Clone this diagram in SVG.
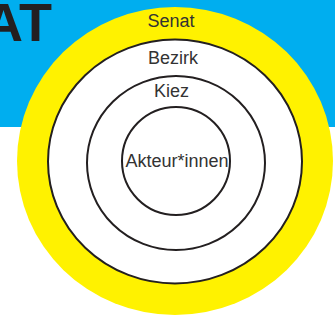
<svg xmlns="http://www.w3.org/2000/svg" width="335" height="320" viewBox="0 0 335 320">
<style>
.ring{fill:#ffffff;stroke:#231f20;stroke-width:2}
.lbl{font-family:"Liberation Sans",Arial,sans-serif;font-size:18px;fill:#333333;text-anchor:middle}
</style>
<rect x="0" y="0" width="335" height="127" fill="#00aeef"/>
<text x="52" y="41" font-family="'Liberation Sans',Arial,sans-serif" font-weight="bold" font-size="54" fill="#231f20" text-anchor="end">AT</text>
<g id="senat">
<ellipse cx="175" cy="161" rx="158" ry="154" fill="#fff200"/>
<text class="lbl" x="171" y="27">Senat</text>
</g>
<g id="bezirk">
<ellipse class="ring" cx="175" cy="161.5" rx="127" ry="122"/>
<text class="lbl" x="173" y="64">Bezirk</text>
</g>
<g id="kiez">
<ellipse class="ring" cx="176" cy="163" rx="89" ry="87"/>
<text class="lbl" x="171.5" y="97">Kiez</text>
</g>
<g id="akteure">
<ellipse class="ring" cx="176" cy="161" rx="54" ry="54"/>
<text class="lbl" x="177" y="167">Akteur*innen</text>
</g>
</svg>
